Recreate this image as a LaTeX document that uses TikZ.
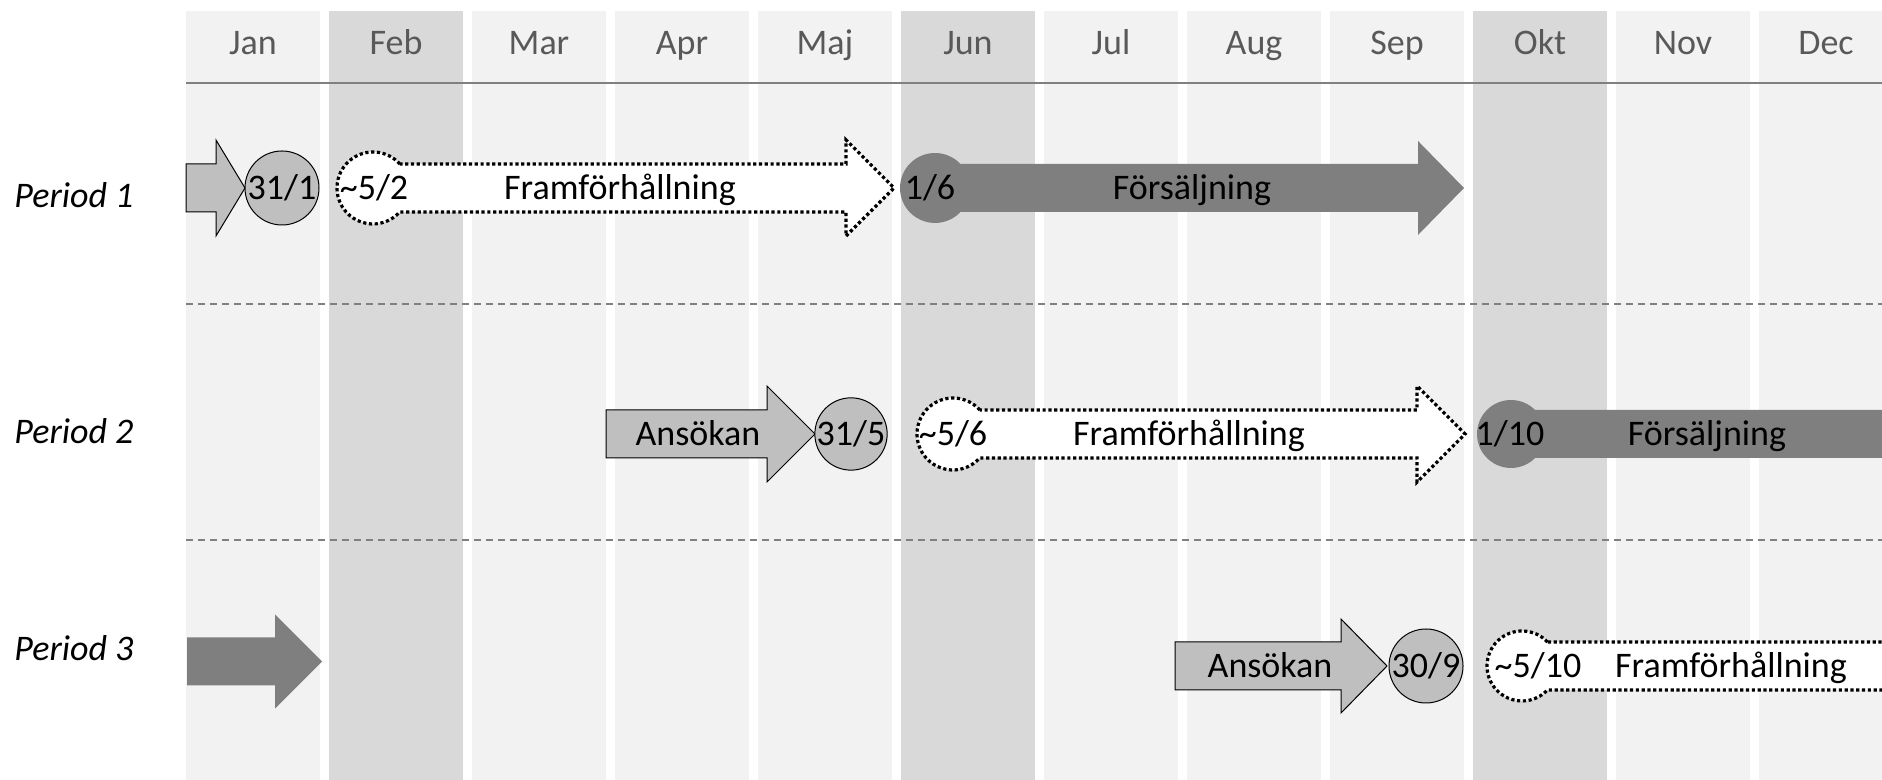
\documentclass[tikz,border=0pt]{standalone}
\usepackage{fontspec}
\setmainfont{Carlito}
\definecolor{colLight}{HTML}{F2F2F2}
\definecolor{colDark}{HTML}{D9D9D9}
\definecolor{boxLight}{HTML}{BFBFBF}
\definecolor{boxDark}{HTML}{7F7F7F}
\definecolor{monthGray}{HTML}{595959}
\definecolor{lineGray}{HTML}{808080}
\begin{document}
\begin{tikzpicture}[x=0.5pt,y=0.5pt,
    every node/.style={font=\fontsize{18}{21}\selectfont, inner sep=0pt},
    lbl/.style={anchor=base, yshift=-5.7pt},
    period/.style={anchor=base west, font=\fontsize{18}{21}\selectfont\itshape},
    lightbox/.style={fill=boxLight, draw=black, line width=0.5pt},
    darkbox/.style={fill=boxDark},
    planbox/.style={fill=white, draw=black, line width=1.6pt, dash pattern=on 1.6pt off 1.3pt},
    datum/.style={circle, fill=boxLight, draw=black, line width=0.5pt, minimum size=37pt, text height=11.4pt, text depth=0pt}]
  \useasboundingbox (0,0) rectangle (1882,780);
  \clip (0,0) rectangle (1882,780);
  \fill[white] (0,0) rectangle (1882,780);
  % month columns
  \foreach \m/\c [count=\i from 0] in {Jan/colLight,Feb/colDark,Mar/colLight,Apr/colLight,Maj/colLight,Jun/colDark,Jul/colLight,Aug/colLight,Sep/colLight,Okt/colDark,Nov/colLight,Dec/colLight}{
    \fill[\c] ({186+143*\i},0) rectangle ({320+143*\i},769);
    \node[lbl, text=monthGray] (m\i) at ({253+143*\i},737) {\m};
  }
  \draw[lineGray, line width=1pt] (186,697) -- (1882,697);
  \draw[lineGray, line width=0.7pt, dash pattern=on 3.5pt off 2.5pt] (186,476) -- (1882,476);
  \draw[lineGray, line width=0.7pt, dash pattern=on 3.5pt off 2.5pt] (186,240) -- (1882,240);
  \node[period] (p1) at (14,572) {Period 1};
  \node[period] (p2) at (14,336) {Period 2};
  \node[period] (p3) at (14,119) {Period 3};
  % period 1
  \draw[lightbox] (186,568) -- (216,568) -- (216,544) -- (245,592) -- (216,640) -- (216,616) -- (186,616) -- cycle;
  \node[datum] (d1) at (282,592) {31/1};
  \draw[planbox] (373,592)++(41.81:36) arc (41.81:318.19:36) -- (846,568) -- (846,544) -- (894,592) -- (846,640) -- (846,616) -- cycle;
  \node[lbl] (f1) at (374,592) {\textasciitilde5/2};
  \node[lbl] (fr1) at (620,592) {Framförhållning};
  \fill[darkbox] (935,592)++(43.3:35) arc (43.3:316.7:35) -- (1418,568) -- (1418,545) -- (1464,592) -- (1418,639) -- (1418,616) -- cycle;
  \node[lbl] (s1) at (930,592) {1/6};
  \node[lbl] (fs1) at (1192,592) {Försäljning};
  % period 2
  \draw[lightbox] (606,322) -- (767,322) -- (767,298) -- (815,346) -- (767,394) -- (767,370) -- (606,370) -- cycle;
  \node[lbl] (a2) at (698,346) {Ansökan};
  \node[datum, minimum size=36pt] (d2) at (851,346) {31/5};
  \draw[planbox] (953,346)++(41.81:36) arc (41.81:318.19:36) -- (1417,322) -- (1417,298) -- (1465,346) -- (1417,394) -- (1417,370) -- cycle;
  \node[lbl] (f2) at (953,346) {\textasciitilde5/6};
  \node[lbl] (fr2) at (1189,346) {Framförhållning};
  \fill[darkbox] (1511,346)++(44.9:34) arc (44.9:315.1:34) -- (1900,322) -- (1900,370) -- cycle;
  \node[lbl] (s2) at (1510,346) {1/10};
  \node[lbl] (fs2) at (1707,346) {Försäljning};
  % period 3
  \fill[darkbox] (187,94.5) -- (275,94.5) -- (275,71.5) -- (322,118.5) -- (275,165.5) -- (275,142.5) -- (187,142.5) -- cycle;
  \draw[lightbox] (1175,90) -- (1341,90) -- (1341,67) -- (1387,114) -- (1341,161) -- (1341,138) -- (1175,138) -- cycle;
  \node[lbl] (a3) at (1270,114) {Ansökan};
  \node[datum] (d3) at (1426,114) {30/9};
  \draw[planbox] (1522,114)++(43.3:35) arc (43.3:316.7:35) -- (1900,90) -- (1900,138) -- cycle;
  \node[lbl] (f3) at (1538,114) {\textasciitilde5/10};
  \node[lbl] (fr3) at (1731,114) {Framförhållning};
\end{tikzpicture}
\end{document}
